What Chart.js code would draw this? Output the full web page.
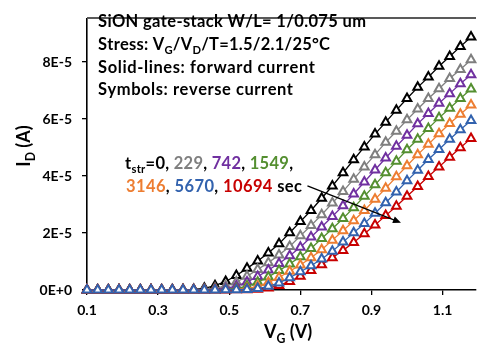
<!DOCTYPE html>
<html>
<head>
<meta charset="utf-8">
<script src="https://cdn.jsdelivr.net/npm/chart.js@4.4.0/dist/chart.umd.min.js"></script>
<style>
  html, body { margin: 0; padding: 0; background: #fff; }
</style>
</head>
<body>
<canvas id="chart" width="483" height="343"></canvas>

<script>
/* --- data (drain current in units of 1E-5 A) --- */
const vgValues = [0.10,0.13,0.16,0.19,0.22,0.25,0.28,0.31,0.34,0.37,0.40,0.43,0.46,0.49,0.52,0.55,0.58,0.61,0.64,0.67,0.70,0.73,0.76,0.79,0.82,0.85,0.88,0.91,0.94,0.97,1.00,1.03,1.06,1.09,1.12,1.15,1.18];

const id0     = [0,0,0,0,0,0,0,0,0.005,0.01,0.02,0.06,0.15,0.30,0.51,0.76,1.02,1.30,1.62,2.01,2.40,2.79,3.22,3.65,4.11,4.57,5.02,5.47,5.89,6.31,6.72,7.11,7.47,7.85,8.19,8.54,8.88];
const id229   = [0,0,0,0,0,0,0,0,0,0.005,0.01,0.02,0.06,0.14,0.28,0.48,0.72,0.96,1.23,1.53,1.90,2.26,2.64,3.05,3.46,3.89,4.32,4.75,5.18,5.57,5.97,6.35,6.72,7.06,7.42,7.74,8.08];
const id742   = [0,0,0,0,0,0,0,0,0,0,0.005,0.01,0.02,0.055,0.14,0.28,0.47,0.70,0.93,1.20,1.50,1.86,2.21,2.58,2.96,3.37,3.79,4.21,4.63,5.04,5.43,5.83,6.19,6.55,6.89,7.24,7.55];
const id1549  = [0,0,0,0,0,0,0,0,0,0,0,0.005,0.01,0.02,0.05,0.14,0.27,0.46,0.68,0.91,1.17,1.46,1.81,2.15,2.51,2.89,3.29,3.69,4.11,4.52,4.92,5.29,5.67,6.04,6.38,6.72,7.05];
const id3146  = [0,0,0,0,0,0,0,0,0,0,0,0,0.005,0.01,0.02,0.05,0.13,0.26,0.44,0.66,0.88,1.13,1.41,1.75,2.08,2.43,2.79,3.18,3.57,3.97,4.36,4.75,5.11,5.48,5.84,6.17,6.49];
const id5670  = [0,0,0,0,0,0,0,0,0,0,0,0,0,0.005,0.01,0.02,0.05,0.13,0.25,0.43,0.64,0.85,1.09,1.36,1.68,2.01,2.33,2.69,3.06,3.44,3.83,4.20,4.58,4.93,5.29,5.62,5.95];
const id10694 = [0,0,0,0,0,0,0,0,0,0,0,0,0,0,0.005,0.01,0.03,0.07,0.16,0.30,0.48,0.68,0.89,1.13,1.39,1.67,1.97,2.28,2.61,2.94,3.29,3.63,3.98,4.32,4.66,4.99,5.32];

const stressTimes = ['0', '229', '742', '1549', '3146', '5670', '10694'];
const seriesData = [id0, id229, id742, id1549, id3146, id5670, id10694];
const seriesColors = ['#000000', '#7f7f7f', '#7030a0', '#548f30', '#ed7d31', '#3262ae', '#c80000'];
const drawOrder = [6, 5, 4, 3, 2, 0, 1];   // lower = drawn on top

const xTicks = [0.1, 0.3, 0.5, 0.7, 0.9, 1.1];
const yTicks = [0, 2, 4, 6, 8];
const yTickLabels = ['0E+0', '2E-5', '4E-5', '6E-5', '8E-5'];
const xRange = [0.1, 1.194];
const yRange = [0, 9.53];

// arrow showing the shift with stress time (data coordinates)
const arrowFrom = [0.72, 3.65];
const arrowTo = [0.983, 2.36];

/* --- text blocks: parts {t, sub, color} --- */
const infoLines = [
  [{ t: 'SiON gate-stack W/L= 1/0.075 um' }],
  [{ t: 'Stress: V' }, { t: 'G', sub: true }, { t: '/V' }, { t: 'D', sub: true }, { t: '/T=1.5/2.1/25°C' }],
  [{ t: 'Solid-lines: forward current' }],
  [{ t: 'Symbols: reverse current' }]
];
const legendLines = [[{ t: 't' }, { t: 'str', sub: true }, { t: '=' }], []];
stressTimes.forEach((t, i) => {
  const line = i < 4 ? legendLines[0] : legendLines[1];
  line.push({ t: t, color: seriesColors[i] });
  if (i < stressTimes.length - 1) line.push({ t: ', ' });
});
legendLines[0][legendLines[0].length - 1].t = ',';
legendLines[1].push({ t: ' sec' });
const xTitle = [{ t: 'V' }, { t: 'G', sub: true }, { t: ' (V)' }];
const yTitle = [{ t: 'I' }, { t: 'D', sub: true }, { t: ' (A)' }];

// placement: [left, baseline, right edge]
const infoPos = [[98, 27.3, 366], [98, 50, 330], [98, 72.7, 315], [98, 95, 293]];
const legendPos = [[125, 168.5, 293], [126, 191.7, 302]];

const FAMILY = 'Lato, "Open Sans", sans-serif';

function drawParts(ctx, parts, x, y, size, targetW) {
  const fontFor = p => `bold ${p.sub ? size * 0.68 : size}px ${FAMILY}`;
  let natural = 0, count = 0;
  parts.forEach(p => {
    ctx.font = fontFor(p);
    for (const ch of p.t) { natural += ctx.measureText(ch).width; count++; }
  });
  const ls = targetW ? (targetW - natural) / Math.max(count - 1, 1) : 0;
  let cx = x;
  parts.forEach(p => {
    ctx.font = fontFor(p);
    ctx.fillStyle = p.color || '#000';
    const dy = p.sub ? size * 0.27 : 0;
    for (const ch of p.t) {
      ctx.fillText(ch, cx, y + dy);
      cx += ctx.measureText(ch).width + ls;
    }
  });
  return cx - x - ls;
}

function partsWidth(ctx, parts, size) {
  let w = 0;
  parts.forEach(p => {
    ctx.font = `bold ${p.sub ? size * 0.68 : size}px ${FAMILY}`;
    for (const ch of p.t) w += ctx.measureText(ch).width;
  });
  return w;
}

/* --- plugin: frame line, arrow, text --- */
const extras = {
  id: 'extras',
  afterDatasetsDraw(chart) {
    const { ctx, chartArea, scales } = chart;
    ctx.save();
    ctx.strokeStyle = '#595959';
    ctx.lineWidth = 2;
    ctx.beginPath();
    ctx.moveTo(chartArea.left, chartArea.top - 0.5);
    ctx.lineTo(chartArea.right, chartArea.top - 0.5);
    ctx.stroke();

    const x1 = scales.x.getPixelForValue(arrowFrom[0]);
    const y1 = scales.y.getPixelForValue(arrowFrom[1]);
    const x2 = scales.x.getPixelForValue(arrowTo[0]);
    const y2 = scales.y.getPixelForValue(arrowTo[1]);
    const ang = Math.atan2(y2 - y1, x2 - x1);
    ctx.strokeStyle = '#000';
    ctx.fillStyle = '#000';
    ctx.lineWidth = 1.3;
    ctx.beginPath();
    ctx.moveTo(x1, y1);
    ctx.lineTo(x2 - 5 * Math.cos(ang), y2 - 5 * Math.sin(ang));
    ctx.stroke();
    ctx.beginPath();
    ctx.moveTo(x2, y2);
    ctx.lineTo(x2 - 8 * Math.cos(ang) + 3.5 * Math.sin(ang), y2 - 8 * Math.sin(ang) - 3.5 * Math.cos(ang));
    ctx.lineTo(x2 - 8 * Math.cos(ang) - 3.5 * Math.sin(ang), y2 - 8 * Math.sin(ang) + 3.5 * Math.cos(ang));
    ctx.closePath();
    ctx.fill();

    ctx.textBaseline = 'alphabetic';
    ctx.textAlign = 'left';
    infoLines.forEach((line, i) => {
      const [x, y, r] = infoPos[i];
      drawParts(ctx, line, x, y, 16.5, r - x);
    });
    legendLines.forEach((line, i) => {
      const [x, y, r] = legendPos[i];
      drawParts(ctx, line, x, y, 16.5, r - x);
    });

    // axis titles
    const xw = partsWidth(ctx, xTitle, 18);
    drawParts(ctx, xTitle, 288 - xw / 2, 338, 18);
    const yw = partsWidth(ctx, yTitle, 18);
    ctx.translate(30, 146);
    ctx.rotate(-Math.PI / 2);
    drawParts(ctx, yTitle, -yw / 2, 0, 18);
    ctx.restore();
  }
};

const tickFont = { family: FAMILY, size: 14, weight: 'bold' };

new Chart(document.getElementById('chart'), {
  type: 'line',
  data: {
    datasets: seriesData.map((vals, i) => ({
      label: 't=' + stressTimes[i],
      data: vals.map((v, j) => ({ x: vgValues[j], y: v })),
      borderColor: seriesColors[i],
      borderWidth: 1.3,
      pointStyle: 'triangle',
      pointRadius: 5,
      pointBorderWidth: 2,
      pointBorderColor: seriesColors[i],
      pointBackgroundColor: '#ffffff',
      tension: 0,
      clip: false,
      order: drawOrder[i]
    }))
  },
  options: {
    responsive: false,
    animation: false,
    layout: { padding: { top: 6, right: 0, left: 0, bottom: 0 } },
    plugins: { legend: { display: false }, tooltip: { enabled: false } },
    scales: {
      x: {
        type: 'linear',
        min: xRange[0],
        max: xRange[1],
        afterFit(s) { s.height = 53; },
        afterBuildTicks(s) { s.ticks = xTicks.map(v => ({ value: v })); },
        ticks: { font: tickFont, color: '#000', padding: 7, maxRotation: 0,
                 callback: v => v.toFixed(1) },
        grid: { drawOnChartArea: false, drawTicks: true, tickLength: 5, color: '#000', lineWidth: 1.3 },
        border: { color: '#000', width: 1.6 }
      },
      y: {
        min: yRange[0],
        max: yRange[1],
        afterFit(s) { s.width = 87; },
        afterBuildTicks(s) { s.ticks = yTicks.map(v => ({ value: v })); },
        ticks: { font: tickFont, color: '#000', padding: 10,
                 callback: (v) => yTickLabels[yTicks.indexOf(v)] },
        grid: { drawOnChartArea: false, drawTicks: true, tickLength: 5, color: '#000', lineWidth: 1.3 },
        border: { color: '#000', width: 1.6 }
      }
    }
  },
  plugins: [extras]
});
</script>
</body>
</html>
